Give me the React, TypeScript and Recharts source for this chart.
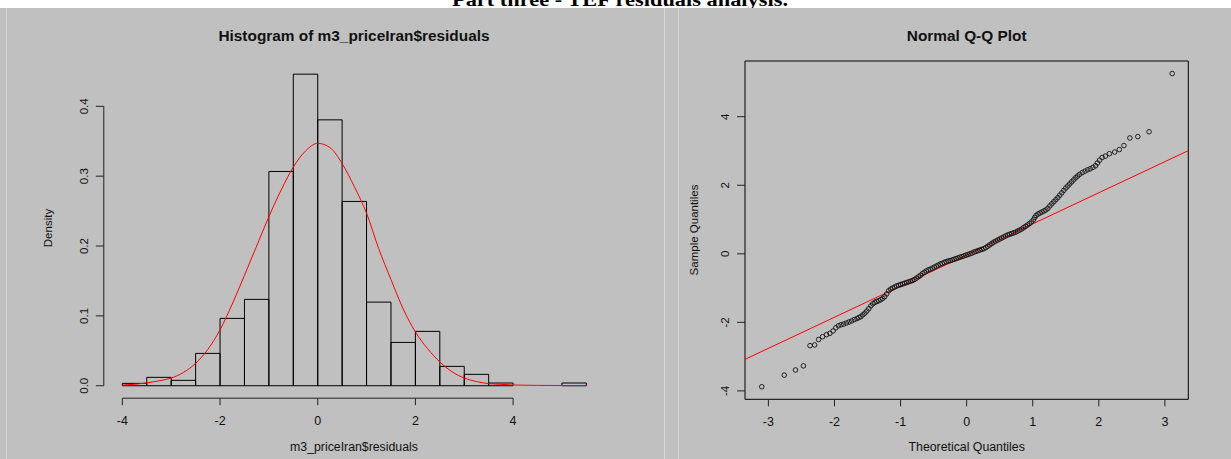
import { ComposedChart, ScatterChart, Scatter, Line, XAxis, YAxis, ReferenceArea, ReferenceLine } from 'recharts';

// histogram of the residuals (density scale), bins of width 0.5
const binEdges = [-4, -3.5, -3, -2.5, -2, -1.5, -1, -0.5, 0, 0.5, 1, 1.5, 2, 2.5, 3, 3.5, 4, 4.5, 5, 5.5];
const binDensity = [0.0034, 0.012, 0.0077, 0.0463, 0.0964, 0.1236, 0.3067, 0.446, 0.3806, 0.2638, 0.1197, 0.062, 0.0778, 0.0277, 0.0163, 0.0039, 0, 0, 0.0039];

// red density curve over the histogram
const curveX = [-4, -3.75, -3.5, -3.25, -3, -2.75, -2.5, -2.25, -2, -1.75, -1.5, -1.25, -1, -0.75, -0.5, -0.25, 0, 0.25, 0.5, 0.75, 1, 1.25, 1.5, 1.75, 2, 2.25, 2.5, 2.75, 3, 3.25, 3.5, 3.75, 4, 4.5, 5, 5.5];
const curveY = [0.001, 0.002, 0.004, 0.007, 0.011, 0.019, 0.032, 0.052, 0.08, 0.117, 0.158, 0.2, 0.242, 0.28, 0.313, 0.336, 0.347, 0.341, 0.318, 0.285, 0.247, 0.196, 0.152, 0.11, 0.077, 0.053, 0.034, 0.02, 0.011, 0.006, 0.003, 0.002, 0.001, 0.0005, 0.0003, 0.0002];

// normal Q-Q points: theoretical vs sample quantiles
const qqTheoretical = [
  -3.1, -2.76, -2.59, -2.47, -2.37, -2.3, -2.24, -2.18, -2.12, -2.07, -2.02, -1.98, -1.94, -1.9, -1.86, -1.82, -1.78, -1.74,
  -1.7, -1.66, -1.63, -1.6, -1.57, -1.54, -1.51, -1.48, -1.45, -1.42, -1.39, -1.36, -1.33, -1.3, -1.27, -1.24, -1.21, -1.18,
  -1.15, -1.12, -1.09, -1.06, -1.03, -1.0, -0.97, -0.94, -0.91, -0.88, -0.85, -0.82, -0.79, -0.76, -0.73, -0.7, -0.67, -0.64,
  -0.61, -0.58, -0.55, -0.52, -0.49, -0.46, -0.43, -0.4, -0.37, -0.34, -0.31, -0.28, -0.25, -0.22, -0.19, -0.16, -0.13, -0.1,
  -0.07, -0.04, -0.01, 0.02, 0.05, 0.08, 0.11, 0.14, 0.17, 0.2, 0.23, 0.26, 0.29, 0.32, 0.35, 0.38, 0.41, 0.44, 0.47, 0.5,
  0.53, 0.56, 0.59, 0.62, 0.65, 0.68, 0.71, 0.74, 0.77, 0.8, 0.83, 0.86, 0.89, 0.92, 0.95, 0.98, 1.01, 1.03, 1.05, 1.08,
  1.11, 1.14, 1.17, 1.2, 1.23, 1.26, 1.29, 1.32, 1.35, 1.38, 1.41, 1.44, 1.47, 1.5, 1.53, 1.56, 1.59, 1.62, 1.65, 1.68,
  1.71, 1.75, 1.79, 1.83, 1.87, 1.91, 1.95, 1.98, 2.01, 2.05, 2.1, 2.16, 2.24, 2.31, 2.38, 2.47, 2.59, 2.76, 3.11,
];
const qqSample = [
  -3.88, -3.54, -3.39, -3.27, -2.68, -2.66, -2.5, -2.42, -2.36, -2.32, -2.25, -2.16, -2.1, -2.07, -2.05, -2.02, -1.99, -1.96,
  -1.92, -1.89, -1.86, -1.83, -1.78, -1.73, -1.67, -1.6, -1.52, -1.46, -1.42, -1.39, -1.37, -1.34, -1.3, -1.25, -1.17, -1.08,
  -1.03, -1.0, -0.97, -0.94, -0.92, -0.9, -0.88, -0.86, -0.84, -0.82, -0.8, -0.78, -0.75, -0.71, -0.67, -0.63, -0.58, -0.54,
  -0.5, -0.47, -0.45, -0.42, -0.39, -0.36, -0.33, -0.3, -0.28, -0.25, -0.23, -0.21, -0.2, -0.18, -0.16, -0.14, -0.12, -0.1,
  -0.08, -0.06, -0.04, -0.02, 0.0, 0.02, 0.05, 0.07, 0.09, 0.11, 0.13, 0.15, 0.18, 0.22, 0.26, 0.3, 0.34, 0.37, 0.4, 0.43,
  0.46, 0.49, 0.52, 0.55, 0.57, 0.59, 0.61, 0.63, 0.66, 0.69, 0.72, 0.76, 0.8, 0.84, 0.88, 0.93, 0.99, 1.06, 1.12, 1.16,
  1.19, 1.22, 1.25, 1.28, 1.33, 1.4, 1.46, 1.52, 1.58, 1.64, 1.71, 1.78, 1.85, 1.92, 1.98, 2.04, 2.1, 2.16, 2.22, 2.27,
  2.32, 2.37, 2.41, 2.45, 2.48, 2.52, 2.57, 2.65, 2.73, 2.81, 2.85, 2.92, 2.97, 3.04, 3.16, 3.38, 3.42, 3.56, 5.26,
];

// qqline endpoints at the edges of the plot
const qqLineX = [-3.354, 3.354];
const qqLineY = [-3.08, 3.01];

const histXTicks = [-4, -2, 0, 2, 4];
const histYTicks = [0, 0.1, 0.2, 0.3, 0.4];
const qqXTicks = [-3, -2, -1, 0, 1, 2, 3];
const qqYTicks = [-4, -2, 0, 2, 4];

const FONT = '"Liberation Sans", Arial, Helvetica, sans-serif';
const GRAY = '#c0c0c0';

// R-style axis range: data range widened by 4% on each side
const padRange = (lo: number, hi: number): [number, number] => {
  const d = (hi - lo) * 0.04;
  return [lo - d, hi + d];
};

const histXDomain = padRange(binEdges[0], binEdges[binEdges.length - 1]);
const histYDomain = padRange(0, Math.max(...binDensity));
const qqXDomain: [number, number] = [qqLineX[0], qqLineX[1]];
const qqYDomain = padRange(Math.min(...qqSample), Math.max(...qqSample));

const curveData = curveX.map((x, i) => ({ x, y: curveY[i] }));
const qqPoints = qqTheoretical.map((x, i) => ({ x, y: qqSample[i] }));

const tickStyle = { fontSize: 12.5, fill: '#111', fontFamily: FONT };

// y tick labels drawn parallel to the axis
const RotatedTick = (props: any) => {
  const { x, y, payload, digits } = props;
  const v = payload.value;
  const label = digits ? v.toFixed(digits) : String(v);
  return (
    <text x={x} y={y} transform={`rotate(-90, ${x}, ${y})`} textAnchor="middle" fontSize={11.5} fill="#111" fontFamily={FONT}>
      {label}
    </text>
  );
};

const OpenCircle = (props: any) => (
  <circle cx={props.cx} cy={props.cy} r={2.3} fill="none" stroke="#111" strokeWidth={0.9} />
);

function Histogram() {
  return (
    <ComposedChart
      width={664}
      height={459}
      data={curveData}
      margin={{ top: 61.7, right: 59.1, left: 63.8, bottom: 20.8 }}
    >
      <XAxis
        dataKey="x"
        type="number"
        domain={histXDomain}
        allowDataOverflow
        ticks={histXTicks}
        interval={0}
        axisLine={false}
        tickLine={{ stroke: '#222' }}
        tickSize={7}
        tickMargin={11}
        height={40}
        tick={tickStyle}
      />
      <YAxis
        type="number"
        domain={histYDomain}
        allowDataOverflow
        ticks={histYTicks}
        interval={0}
        axisLine={false}
        tickLine={{ stroke: '#222' }}
        tickSize={8}
        tickMargin={8}
        width={40}
        tick={(p: any) => <RotatedTick {...p} digits={1} />}
      />
      {/* axis lines only span the tick range */}
      <ReferenceLine
        segment={[{ x: histXTicks[0], y: histYDomain[0] }, { x: histXTicks[histXTicks.length - 1], y: histYDomain[0] }]}
        stroke="#222"
        ifOverflow="visible"
      />
      <ReferenceLine
        segment={[{ x: histXDomain[0], y: histYTicks[0] }, { x: histXDomain[0], y: histYTicks[histYTicks.length - 1] }]}
        stroke="#222"
        ifOverflow="visible"
      />
      {binDensity.map((d, i) => (
        <ReferenceArea
          key={i}
          x1={binEdges[i]}
          x2={binEdges[i + 1]}
          y1={0}
          y2={d}
          fill="none"
          stroke="#000"
          strokeWidth={1}
          ifOverflow="visible"
        />
      ))}
      <Line
        type="monotone"
        dataKey="y"
        stroke="#ff0000"
        strokeWidth={1}
        dot={false}
        isAnimationActive={false}
      />
    </ComposedChart>
  );
}

function QQPlot() {
  return (
    <ScatterChart
      width={567}
      height={459}
      margin={{ top: 61, right: 42.7, left: 41, bottom: 19.7 }}
    >
      <XAxis
        dataKey="x"
        type="number"
        domain={qqXDomain}
        allowDataOverflow
        ticks={qqXTicks}
        interval={0}
        axisLine={false}
        tickLine={{ stroke: '#222' }}
        tickSize={7}
        tickMargin={11}
        height={40}
        tick={tickStyle}
      />
      <YAxis
        dataKey="y"
        type="number"
        domain={qqYDomain}
        allowDataOverflow
        ticks={qqYTicks}
        interval={0}
        axisLine={false}
        tickLine={{ stroke: '#222' }}
        tickSize={8}
        tickMargin={8}
        width={40}
        tick={(p: any) => <RotatedTick {...p} />}
      />
      <ReferenceArea
        x1={qqXDomain[0]}
        x2={qqXDomain[1]}
        y1={qqYDomain[0]}
        y2={qqYDomain[1]}
        fill="none"
        stroke="#000"
        strokeWidth={1}
        ifOverflow="visible"
      />
      <Scatter data={qqPoints} shape={OpenCircle} isAnimationActive={false} />
      <ReferenceLine
        segment={[{ x: qqLineX[0], y: qqLineY[0] }, { x: qqLineX[1], y: qqLineY[1] }]}
        stroke="#ff0000"
        strokeWidth={1}
        ifOverflow="visible"
      />
    </ScatterChart>
  );
}

export default function App() {
  return (
    <div style={{ position: 'absolute', left: 0, top: 0, width: 1231, height: 459, background: '#fff', overflow: 'hidden', fontFamily: FONT }}>
      <svg width={1231} height={20} style={{ position: 'absolute', left: 0, top: 0 }}>
        <text
          x={620}
          y={5.5}
          textAnchor="middle"
          fontFamily='"Liberation Serif", "DejaVu Serif", serif'
          fontWeight="bold"
          fontSize={19}
          textLength={336}
          lengthAdjust="spacingAndGlyphs"
          fill="#000"
        >
          Part three - TEF residuals analysis.
        </text>
      </svg>
      <div style={{ position: 'absolute', left: 0, top: 8, width: 1231, height: 451, background: GRAY }} />
      {[6, 664, 678].map((x) => (
        <div key={x} style={{ position: 'absolute', left: x, top: 8, width: 1, height: 451, background: '#d6d6d6' }} />
      ))}
      <div style={{ position: 'absolute', left: 0, top: 0 }}>
        <Histogram />
      </div>
      <div style={{ position: 'absolute', left: 664, top: 0 }}>
        <QQPlot />
      </div>
      <svg width={1231} height={459} style={{ position: 'absolute', left: 0, top: 0, pointerEvents: 'none' }} fontFamily={FONT}>
        <text x={354} y={41} textAnchor="middle" fontWeight="bold" fontSize={15.4} fill="#111">
          Histogram of m3_priceIran$residuals
        </text>
        <text x={966.7} y={41} textAnchor="middle" fontWeight="bold" fontSize={15.4} fill="#111">
          Normal Q-Q Plot
        </text>
        <text x={354} y={450.5} textAnchor="middle" fontSize={12.3} fill="#111">
          m3_priceIran$residuals
        </text>
        <text x={966.7} y={450.5} textAnchor="middle" fontSize={12.3} fill="#111">
          Theoretical Quantiles
        </text>
        <text x={51.5} y={228} transform="rotate(-90, 51.5, 228)" textAnchor="middle" fontSize={11.5} fill="#111">
          Density
        </text>
        <text x={698} y={230} transform="rotate(-90, 698, 230)" textAnchor="middle" fontSize={11.5} fill="#111">
          Sample Quantiles
        </text>
      </svg>
    </div>
  );
}
